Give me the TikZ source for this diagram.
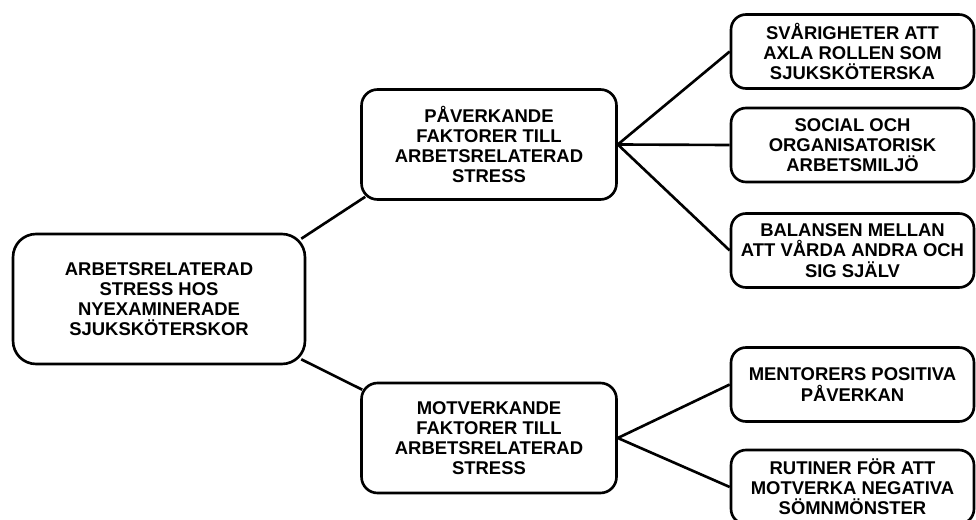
\documentclass[tikz,border=0pt]{standalone}
\usepackage{fontspec}
\setmainfont{Liberation Sans}
\usetikzlibrary{calc}
\begin{document}
\begin{tikzpicture}[x=0.02cm,y=-0.02cm,
  box/.style={draw,line width=1.5pt,fill=white,align=center,inner sep=0pt,
    font=\fontsize{10.5pt}{11.5pt}\selectfont\bfseries},
  rootbox/.style={box,rounded corners=0.46cm,minimum width=5.84cm,minimum height=2.6cm},
  midbox/.style={box,rounded corners=0.32cm,minimum width=5.1cm,minimum height=2.2cm},
  leafbox/.style={box,rounded corners=0.3cm,minimum width=4.86cm,minimum height=1.48cm}]
  \clip (0,0) rectangle (976,520);
  \node[rootbox] (root) at (159,299) {ARBETSRELATERAD\\STRESS HOS\\NYEXAMINERADE\\SJUKSKÖTERSKOR};
  \node[midbox] (pav) at (489,144.5) {PÅVERKANDE\\FAKTORER TILL\\ARBETSRELATERAD\\STRESS};
  \node[midbox] (mot) at (489,438) {MOTVERKANDE\\FAKTORER TILL\\ARBETSRELATERAD\\STRESS};
  \node[leafbox] (roll) at (852.5,51.5) {SVÅRIGHETER ATT\\AXLA ROLLEN SOM\\SJUKSKÖTERSKA};
  \node[leafbox] (miljo) at (852.5,145) {SOCIAL OCH\\ORGANISATORISK\\ARBETSMILJÖ};
  \node[leafbox] (balans) at (852.5,250.5) {BALANSEN MELLAN\\ATT VÅRDA ANDRA OCH\\SIG SJÄLV};
  \node[leafbox] (mentor) at (852.5,384.5) {MENTORERS POSITIVA\\PÅVERKAN};
  \node[leafbox] (somn) at (852.5,487) {RUTINER FÖR ATT\\MOTVERKA NEGATIVA\\SÖMNMÖNSTER};
  \draw[line width=1.5pt] ($(root.north east)+(-5,6)$) -- ($(pav.south west)+(5,-4)$);
  \draw[line width=1.5pt] ($(root.south east)+(-5,-6)$) -- ($(mot.north west)+(2,8)$);
  \draw[line width=1.5pt] (pav.east) -- (roll.west);
  \draw[line width=1.5pt] (pav.east) -- (miljo.west);
  \draw[line width=1.5pt] (pav.east) -- (balans.west);
  \draw[line width=1.5pt] (mot.east) -- (mentor.west);
  \draw[line width=1.5pt] (mot.east) -- (somn.west);
\end{tikzpicture}
\end{document}
